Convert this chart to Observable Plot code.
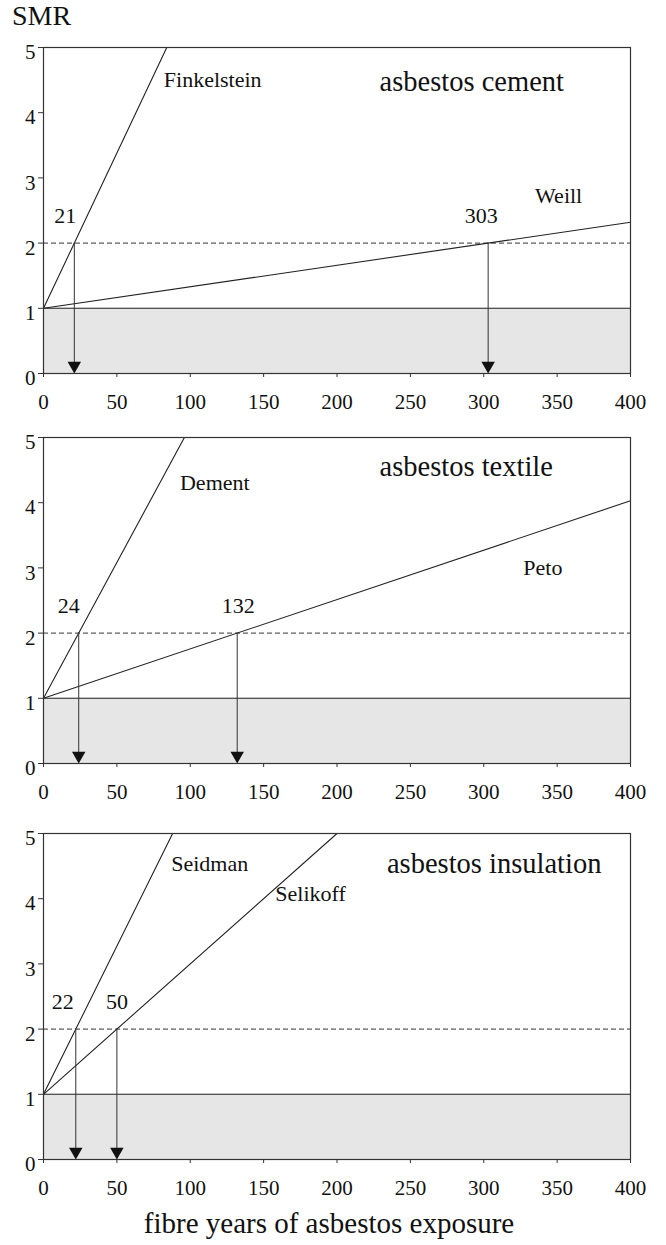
<!DOCTYPE html>
<html><head><meta charset="utf-8">
<script src="https://cdn.jsdelivr.net/npm/d3@7"></script>
<script src="https://cdn.jsdelivr.net/npm/@observablehq/plot@0.6"></script>
<style>
body{margin:0;background:#fff;}
#wrap{position:relative;width:666px;height:1245px;font-family:"Liberation Serif","Times New Roman",serif;color:#111;overflow:hidden;}
#wrap svg text{font-family:"Liberation Serif","Times New Roman",serif;}
.abs{position:absolute;white-space:nowrap;}
</style></head><body><div id="wrap"></div>
<script>
// ---- data ----
const xTicks = [0, 50, 100, 150, 200, 250, 300, 350, 400];
const yTicks = [0, 1, 2, 3, 4, 5];
const panelTitles = ["asbestos cement", "asbestos textile", "asbestos insulation"];
const studies = ["Finkelstein", "Weill", "Dement", "Peto", "Seidman", "Selikoff"];
const studyPanel = [0, 0, 1, 1, 2, 2];
const thresholds = [21, 303, 24, 132, 22, 50];          // fibre years at SMR = 2
const lineEndX = [84, 400, 96, 400, 88, 200];           // where each line leaves the frame
const lineEndSMR = [5, 2.32, 5, 4.03, 5, 5];
const referenceSMR = 1;
const doubledSMR = 2;
const xMax = 400, yMax = 5;
const yTitle = "SMR";
const xTitle = "fibre years of asbestos exposure";

// annotation anchors (data units)
const studyLabelAt = [[82, 4.5], [335, 2.72], [93, 4.3], [327, 3.0], [87, 4.53], [158, 4.08]];
const titleAt = [[229, 4.48], [229, 4.55], [234, 4.53]];

// ---- style / layout ----
const FONT = '"Liberation Serif","Times New Roman",serif';
const numberDx = [-9, -7, -10, 1, -13, 0];
const frameTops = [47, 437, 833];
const MT = 10, MB = 50, FH = 326;
const wrap = document.getElementById("wrap");

const smr = document.createElement("div");
smr.className = "abs";
smr.style.cssText = "left:12px;top:1px;font-size:28px;line-height:30px;";
smr.textContent = yTitle;
wrap.appendChild(smr);

panelTitles.forEach((title, p) => {
  const idx = studies.map((s, i) => i).filter(i => studyPanel[i] === p);
  const lines = idx.flatMap(i => [
    {s: studies[i], x: 0, y: referenceSMR},
    {s: studies[i], x: lineEndX[i], y: lineEndSMR[i]}
  ]);
  const arrows = idx.map(i => ({x: thresholds[i], y1: doubledSMR, y2: 0, label: String(thresholds[i]), dx: numberDx[i]}));
  const labels = idx.map(i => ({x: studyLabelAt[i][0], y: studyLabelAt[i][1], text: studies[i]}));

  const chart = Plot.plot({
    width: 666, height: MT + FH + MB,
    marginTop: MT, marginBottom: MB, marginLeft: 43, marginRight: 36,
    x: {domain: [0, xMax]},
    y: {domain: [0, yMax]},
    style: {fontFamily: FONT, fontSize: "21px", background: "transparent", color: "#111", overflow: "visible"},
    marks: [
      Plot.rect([{x1: 0, x2: xMax, y1: 0, y2: referenceSMR}], {x1: "x1", x2: "x2", y1: "y1", y2: "y2", fill: "#e6e6e6"}),
      Plot.ruleY([referenceSMR], {stroke: "#222", strokeWidth: 1.1}),
      Plot.ruleY([doubledSMR], {stroke: "#333", strokeDasharray: "5,3"}),
      Plot.line(lines, {x: "x", y: "y", z: "s", stroke: "#222", strokeWidth: 1.1}),
      Plot.ruleX(arrows, {x: "x", y1: "y1", y2: "y2", stroke: "#333", insetBottom: 8}),
      Plot.dot(arrows, {x: "x", y: "y2", symbol: "triangle", rotate: 180, r: 5, fill: "#111", stroke: null, dy: -7.8}),
      ...arrows.map(a => Plot.text([a], {x: "x", y: "y1", text: "label", dx: a.dx, dy: -27, fontSize: 22, fill: "#111", fontFamily: FONT})),
      Plot.text(labels, {x: "x", y: "y", text: "text", textAnchor: "start", fontSize: 22, fill: "#111", fontFamily: FONT}),
      Plot.text([title], {x: () => titleAt[p][0], y: () => titleAt[p][1], text: d => d, textAnchor: "start", fontSize: 28.5, fill: "#111", fontFamily: FONT}),
      Plot.frame({stroke: "#333", strokeWidth: 1.2}),
      // tick marks
      Plot.axisX({ticks: xTicks, tickSize: 4, tickFormat: () => "", label: null, stroke: "#333"}),
      Plot.axisY({ticks: yTicks, tickSize: 5, tickFormat: () => "", label: null, stroke: "#333"}),
      // tick labels (serif), positioned through the scales
      Plot.text(xTicks, {x: d => d, frameAnchor: "bottom", lineAnchor: "middle", text: d => String(d), dy: 29, fontSize: 21, fill: "#111", fontFamily: FONT}),
      Plot.text(yTicks, {y: d => d, frameAnchor: "left", lineAnchor: "middle", text: d => String(d), textAnchor: "end", dx: -8, dy: 5, fontSize: 21, fill: "#111", fontFamily: FONT})
    ]
  });
  chart.style.position = "absolute";
  chart.style.left = "0px";
  chart.style.top = (frameTops[p] - MT) + "px";
  wrap.appendChild(chart);
});

const xt = document.createElement("div");
xt.className = "abs";
xt.style.cssText = "left:329px;top:1207px;transform:translateX(-50%);font-size:29px;line-height:32px;";
xt.textContent = xTitle;
wrap.appendChild(xt);
</script>
</body></html>
